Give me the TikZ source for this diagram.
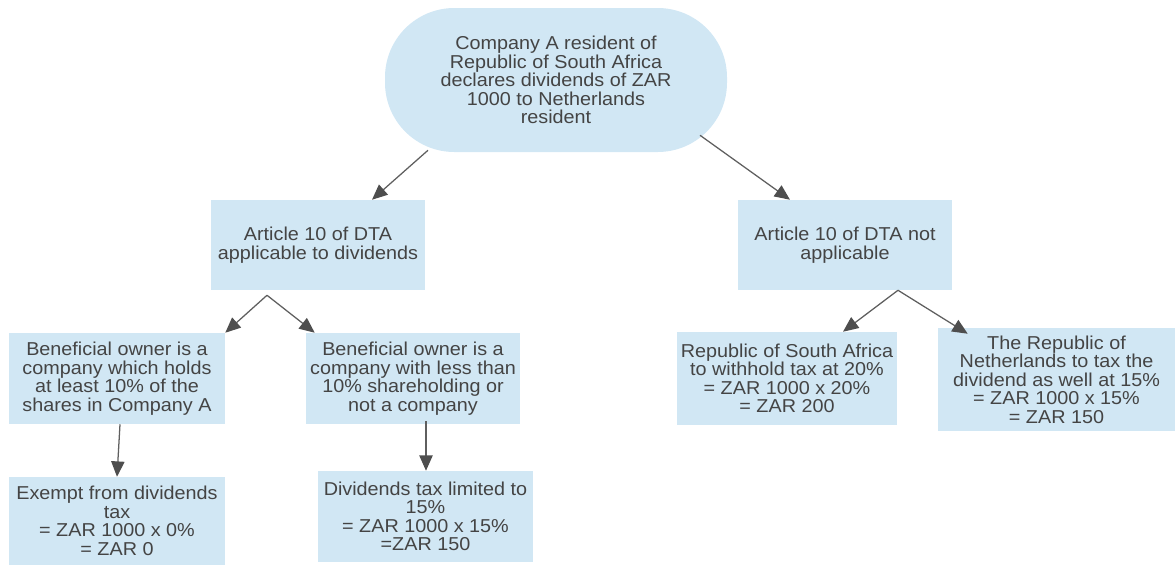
\documentclass[tikz,border=0pt]{standalone}
\usepackage{fontspec}
\setmainfont{Liberation Sans}[FakeStretch=1.06]
\usetikzlibrary{arrows.meta,calc}

\definecolor{boxblue}{RGB}{209,231,244}
\definecolor{inkgray}{RGB}{68,68,68}
\definecolor{linegray}{RGB}{95,95,95}
\definecolor{tipgray}{RGB}{78,78,78}

\tikzset{
  infobox/.style={fill=boxblue, draw=none, inner sep=0pt, align=center,
    text=inkgray, font=\fontsize{14pt}{13.9pt}\selectfont},
  flow/.style={draw=linegray, line width=0.95pt,
    -{Triangle[length=11.5pt,width=10pt,fill=tipgray,color=tipgray]}},
}

\begin{document}
\begin{tikzpicture}[x=0.75pt, y=-0.75pt]
\useasboundingbox (0,0) rectangle (1175,565);

% starting situation
\node[infobox, rounded corners=52pt, minimum width=256.5pt, minimum height=108pt]
  (top) at (556,80) {Company A resident of\\Republic of South Africa\\declares dividends of ZAR\\1000 to Netherlands\\resident};

% treaty applies / does not apply
\node[infobox, minimum width=160.5pt, minimum height=67.5pt]
  (art1) at (318,245) {Article 10 of DTA\\applicable to dividends};
\node[infobox, minimum width=160.5pt, minimum height=67.5pt]
  (art2) at (845,245) {Article 10 of DTA not\\applicable};

% beneficial owner cases
\node[infobox, minimum width=162pt, minimum height=68.25pt]
  (bo1) at (117,378.5) {Beneficial owner is a\\company which holds\\at least 10\% of the\\shares in Company A};
\node[infobox, minimum width=160.5pt, minimum height=68.25pt]
  (bo2) at (413,378.5) {Beneficial owner is a\\company with less than\\10\% shareholding or\\not a company};

% resulting tax
\node[infobox, minimum width=162pt, minimum height=66pt]
  (ex) at (117,521) {Exempt from dividends\\tax\\= ZAR 1000 x 0\%\\= ZAR 0};
\node[infobox, minimum width=161.25pt, minimum height=68.25pt]
  (div) at (425.5,516.5) {Dividends tax limited to\\15\%\\= ZAR 1000 x 15\%\\=ZAR 150};

% no treaty: domestic rates
\node[infobox, minimum width=165pt, minimum height=69.75pt]
  (rsa) at (787,378.5) {Republic of South Africa\\to withhold tax at 20\%\\= ZAR 1000 x 20\%\\= ZAR 200};
\node[infobox, minimum width=177.75pt, minimum height=77.25pt]
  (nl) at (1056.5,379.5) {The Republic of\\Netherlands to tax the\\dividend as well at 15\%\\= ZAR 1000 x 15\%\\= ZAR 150};

% branching points
\coordinate (splitA) at ($(art1.south)+(-51,5)$);
\coordinate (splitB) at ($(art2.south)+(53,0)$);

% connectors
\draw[flow] ($(top.south)+(-128,-2)$) -- ($(art1.north)+(54,0)$);
\draw[flow] ($(top.south)+(144,-17)$) -- ($(art2.north)+(-55,0)$);

\draw[flow] (splitA) -- (bo1.north east);
\draw[flow] (splitA) -- ($(bo2.north west)+(9,0)$);

\draw[flow] ($(bo1.south)+(3,0)$) -- (ex.north);
\draw[flow] ($(bo2.south)+(13,-3)$) -- ($(div.north)+(0.5,0)$);

\draw[flow] (splitB) -- ($(rsa.north)+(56,0)$);
\draw[flow] (splitB) -- ($(nl.north west)+(30,6)$);
\end{tikzpicture}
\end{document}
